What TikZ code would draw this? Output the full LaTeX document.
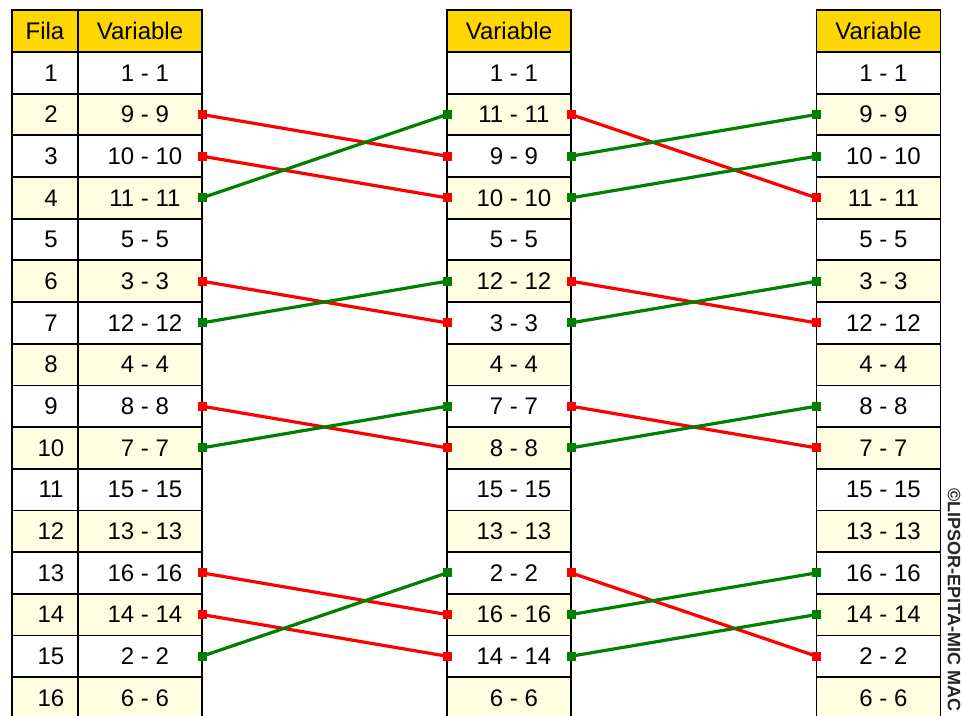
\documentclass[tikz,border=0pt]{standalone}
\usepackage{fontspec}
\setmainfont{Liberation Sans}
\usetikzlibrary{calc}
\definecolor{hdr}{HTML}{FFD700}
\definecolor{rowy}{HTML}{FFFEE0}
\definecolor{lnred}{HTML}{FF0000}
\definecolor{lngreen}{HTML}{008000}
\tikzset{
 cellbase/.style={draw=black, line width=1.3pt, inner sep=0pt, outer sep=0pt, minimum height=31.25pt, font=\fontsize{18}{20}\selectfont, anchor=center},
 filacell/.style={cellbase, minimum width=49.5pt},
 varcell/.style={cellbase, minimum width=93pt},
 hdrcell/.style={fill=hdr, minimum height=31.5pt},
 oddrow/.style={fill=white},
 evenrow/.style={fill=rowy},
 vshift/.style={execute at begin node={\hspace*{7.5pt}}},
 fshift/.style={execute at begin node={\hspace*{9pt}}},
 link/.style={line width=2.4pt},
 copyr/.style={font=\bfseries\fontsize{13.5}{15}\selectfont, rotate=-90, anchor=west, inner sep=0pt, text=black!85},
}
\newcommand\mylink[3]{%
 \draw[link,#3] (#1.east) -- (#2.west);
 \fill[#3] (#1.east) ++(-4.5,-4.5) rectangle ++(9,9);
 \fill[#3] (#2.west) ++(-4.5,-4.5) rectangle ++(9,9);
}
\begin{document}
\begin{tikzpicture}[x=0.75pt,y=-0.75pt]
\useasboundingbox (0,0) rectangle (964,715);
\clip (0,0) rectangle (964,715);
\fill[white] (0,0) rectangle (964,715);
% headers
\node[filacell,hdrcell] (hf) at (45,31) {Fila};
\node[varcell,hdrcell] (ha) at (140,31) {Variable};
\node[varcell,hdrcell] (hb) at (509,31) {Variable};
\node[varcell,hdrcell] (hc) at (878.5,31) {Variable};
% table 1
\foreach \v [count=\i] in {1,9,10,11,5,3,12,4,8,7,15,13,16,14,2,6} {
  \ifodd\i \def\rs{oddrow}\else\def\rs{evenrow}\fi
  \node[filacell,\rs,fshift] (f\i) at (45,{31.165+41.67*\i}) {\i};
  \node[varcell,\rs,vshift] (a\i) at (140,{31.165+41.67*\i}) {\v\ - \v};
}
% table 2
\foreach \v [count=\i] in {1,11,9,10,5,12,3,4,7,8,15,13,2,16,14,6} {
  \ifodd\i \def\rs{oddrow}\else\def\rs{evenrow}\fi
  \node[varcell,\rs,vshift] (b\i) at (509,{31.165+41.67*\i}) {\v\ - \v};
}
% table 3
\foreach \v [count=\i] in {1,9,10,11,5,3,12,4,8,7,15,13,16,14,2,6} {
  \ifodd\i \def\rs{oddrow}\else\def\rs{evenrow}\fi
  \node[varcell,\rs,vshift] (c\i) at (878.5,{31.165+41.67*\i}) {\v\ - \v};
}
% links table 1 -> table 2
\mylink{a2}{b3}{lnred}
\mylink{a3}{b4}{lnred}
\mylink{a4}{b2}{lngreen}
\mylink{a6}{b7}{lnred}
\mylink{a7}{b6}{lngreen}
\mylink{a9}{b10}{lnred}
\mylink{a10}{b9}{lngreen}
\mylink{a13}{b14}{lnred}
\mylink{a14}{b15}{lnred}
\mylink{a15}{b13}{lngreen}
% links table 2 -> table 3
\mylink{b2}{c4}{lnred}
\mylink{b3}{c2}{lngreen}
\mylink{b4}{c3}{lngreen}
\mylink{b6}{c7}{lnred}
\mylink{b7}{c6}{lngreen}
\mylink{b9}{c10}{lnred}
\mylink{b10}{c9}{lngreen}
\mylink{b13}{c15}{lnred}
\mylink{b14}{c13}{lngreen}
\mylink{b15}{c14}{lngreen}
% copyright
\node[copyr] (cp) at (954,488) {©LIPSOR-EPITA-MIC MAC};
\end{tikzpicture}
\end{document}
